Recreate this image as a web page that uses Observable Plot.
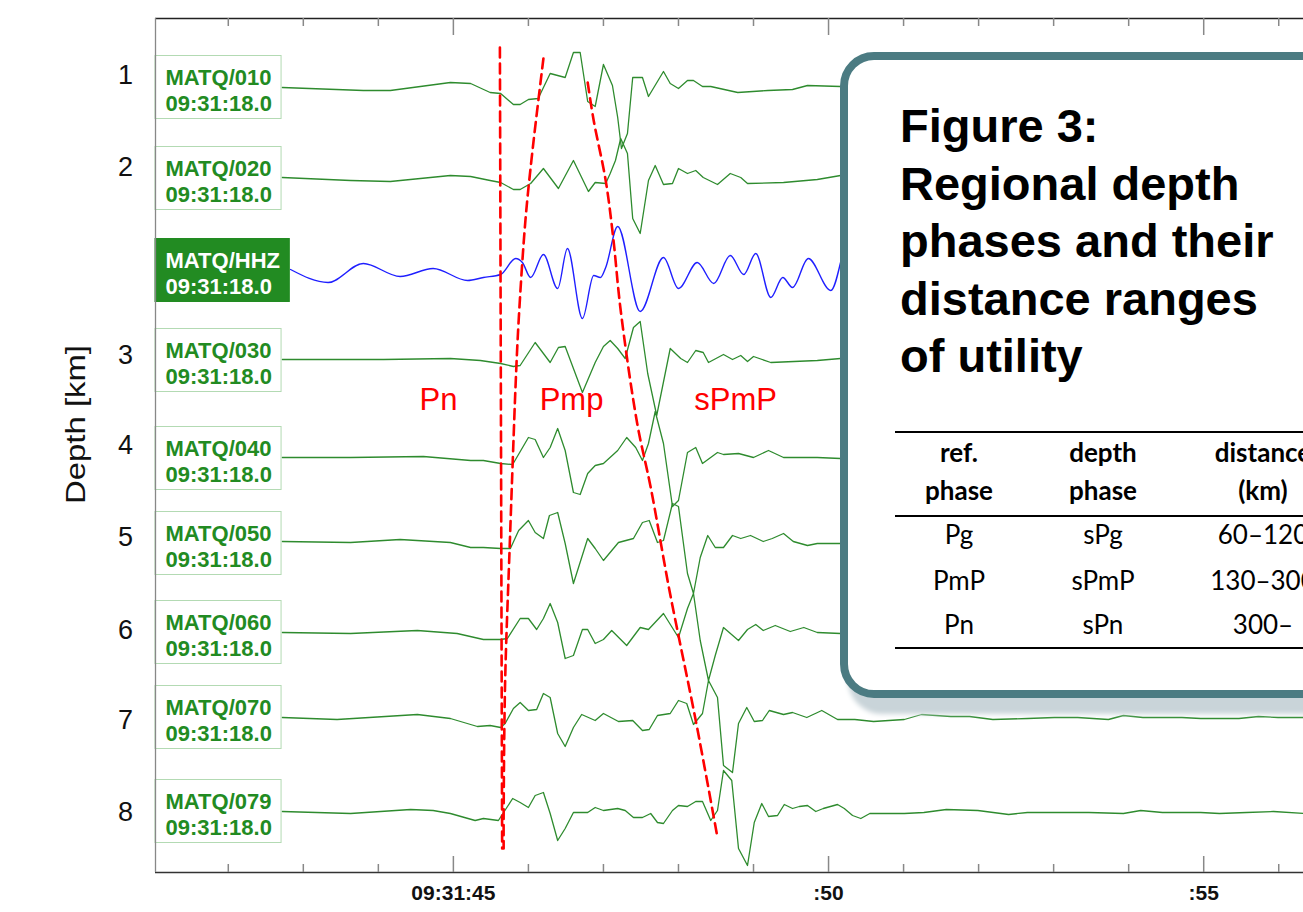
<!DOCTYPE html>
<html><head><meta charset="utf-8">
<script src="https://cdn.jsdelivr.net/npm/d3@7"></script>
<script src="https://cdn.jsdelivr.net/npm/@observablehq/plot@0.6"></script>
<style>
html,body{margin:0;padding:0;background:#fff;}
body{width:1303px;height:912px;overflow:hidden;position:relative;font-family:"Liberation Sans",Arial,sans-serif;}
#chart{position:absolute;left:0;top:0;}
#card{position:absolute;left:840px;top:52px;width:600px;height:630px;border:8px solid #4b7b82;border-radius:34px;background:#fff;box-shadow:8px 16px 5px #c9d4d9;}
#title{position:absolute;left:900px;top:97px;font:bold 47px "Liberation Sans",Arial,sans-serif;line-height:57.5px;color:#000;white-space:nowrap;}
.rule{position:absolute;left:895px;width:500px;height:2px;background:#000;}
.cell{position:absolute;width:170px;text-align:center;font-family:Lato,"Open Sans",sans-serif;font-size:26px;line-height:31.2px;color:#000;white-space:nowrap;}
.hd{font-weight:bold;}
</style></head>
<body>
<div id="chart"></div>
<div id="card"></div>
<div id="title"></div>
<div id="table"></div>
<script>
// ---------- data ----------
const stations = ["MATQ/010","MATQ/020","MATQ/HHZ","MATQ/030","MATQ/040","MATQ/050","MATQ/060","MATQ/070","MATQ/079"];
const startTime = "09:31:18.0";
const traceLevels = [785, 694, 602, 512, 414, 329, 240, 155, 61];
const depthLabels = ["1","2","3","4","5","6","7","8"];
const depthPositions = [797, 705, 517, 427, 335, 242, 152, 60];
const majorTicks = [45, 50, 55];
const majorTickLabels = ["09:31:45", ":50", ":55"];
const secondTicks = [42,43,44,45,46,47,48,49,50,51,52,53,54,55,56];

// [seconds after 09:31:00, amplitude]
const trace010 = [[42.72,0],[43.80,-3],[44.16,-3],[44.96,5],[45.23,4],[45.49,-5],[45.63,-6],[45.80,-17],[45.89,-17],[46.00,-12],[46.13,-11],[46.29,14],[46.49,10],[46.60,35],[46.69,35],[46.79,-14],[46.89,-19],[47.00,23],[47.12,2],[47.19,-30],[47.24,-61],[47.32,-46],[47.39,10],[47.52,10],[47.60,-9],[47.80,16],[47.89,4],[48.00,-1],[48.12,7],[48.20,7],[48.32,1],[48.43,1],[48.79,-5],[49.19,-3],[49.52,-2],[49.72,2],[50.16,1]];
const trace020 = [[42.72,1],[43.63,-2],[44.16,-3],[44.96,3],[45.23,2],[45.49,-2],[45.63,-4],[45.80,-11],[45.89,-11],[46.03,-5],[46.20,10],[46.40,-10],[46.60,18],[46.80,-13],[46.89,-4],[47.03,-5],[47.09,5],[47.16,18],[47.23,40],[47.32,25],[47.39,-40],[47.49,-55],[47.60,-2],[47.69,13],[47.80,-6],[47.92,-5],[48.00,10],[48.12,5],[48.23,8],[48.33,1],[48.52,-6],[48.69,5],[48.83,1],[48.92,-5],[49.40,-4],[49.85,-1],[50.16,3]];
const traceHHZ = [[42.83,1],[43.33,-12],[43.80,7],[44.29,-6],[44.73,2],[45.19,-10],[45.40,-7],[45.63,-4],[45.83,12],[45.92,8],[46.03,-7],[46.20,16],[46.39,-18],[46.52,22],[46.72,-48],[46.87,-5],[46.96,-7],[47.03,3],[47.19,44],[47.49,-41],[47.80,13],[48.00,-18],[48.25,8],[48.47,-13],[48.69,15],[48.87,-4],[49.03,17],[49.23,-27],[49.39,-7],[49.52,-17],[49.73,12],[50.03,-20],[50.16,8]];
const trace030 = [[42.72,1],[44.07,1],[44.96,2],[45.36,0],[45.63,-3],[45.80,-6],[45.89,-5],[46.09,18],[46.29,-2],[46.40,13],[46.49,14],[46.72,-32],[46.89,-2],[47.00,14],[47.09,20],[47.19,12],[47.29,2],[47.40,33],[47.49,39],[47.59,-13],[47.71,-55],[47.89,12],[48.03,2],[48.12,-2],[48.23,10],[48.33,8],[48.40,-2],[48.60,6],[48.72,1],[48.83,5],[48.92,-1],[49.00,4],[49.23,-2],[49.85,0],[50.16,2]];
const trace040 = [[42.72,1],[43.63,1],[44.60,2],[45.23,-2],[45.40,-2],[45.63,-5],[45.79,-6],[46.00,21],[46.09,19],[46.20,1],[46.29,11],[46.39,30],[46.49,8],[46.60,-34],[46.69,-36],[46.79,-15],[46.89,-7],[47.00,-5],[47.19,8],[47.31,21],[47.43,11],[47.52,-2],[47.60,15],[47.69,47],[47.80,15],[47.92,-48],[48.00,-42],[48.12,6],[48.23,11],[48.32,-5],[48.52,6],[48.60,4],[48.80,5],[49.00,1],[49.20,8],[49.40,1],[49.85,1],[50.16,0]];
const trace050 = [[42.72,2],[43.63,1],[44.29,4],[44.96,1],[45.23,-4],[45.40,-4],[45.63,-5],[45.76,-5],[45.87,13],[46.00,23],[46.09,11],[46.20,5],[46.28,28],[46.39,31],[46.49,0],[46.60,-40],[46.79,5],[46.89,-5],[47.00,-17],[47.20,1],[47.40,5],[47.52,21],[47.61,23],[47.72,1],[47.80,3],[47.92,40],[48.00,37],[48.12,-30],[48.20,-50],[48.29,-14],[48.39,8],[48.49,-4],[48.60,-4],[48.72,8],[48.83,5],[48.96,8],[49.13,2],[49.25,5],[49.40,10],[49.53,2],[49.72,-2],[49.85,0],[50.16,0]];
const trace060 = [[42.72,0],[43.63,-1],[44.52,2],[45.05,-1],[45.40,-7],[45.63,-7],[45.72,-6],[45.89,14],[46.00,14],[46.11,3],[46.20,14],[46.29,29],[46.39,10],[46.49,-26],[46.60,-23],[46.72,3],[46.79,3],[46.89,-11],[47.00,-7],[47.11,2],[47.31,-13],[47.49,5],[47.60,3],[47.80,19],[48.00,-5],[48.12,24],[48.20,39],[48.29,-8],[48.40,-48],[48.49,-23],[48.60,5],[48.80,-8],[48.92,3],[49.03,8],[49.13,2],[49.29,7],[49.49,1],[49.67,5],[49.85,0],[50.16,-1]];
const trace070 = [[42.72,0],[43.45,-2],[44.52,3],[44.96,-1],[45.32,-9],[45.49,-8],[45.63,-10],[45.69,-6],[45.80,9],[45.89,15],[46.00,7],[46.11,8],[46.20,24],[46.29,20],[46.39,-16],[46.49,-29],[46.60,-10],[46.71,3],[46.89,-3],[47.00,4],[47.20,-4],[47.39,-3],[47.52,-13],[47.61,-12],[47.72,2],[47.89,4],[48.00,17],[48.11,14],[48.20,-7],[48.32,4],[48.40,37],[48.52,20],[48.60,-48],[48.72,-55],[48.80,-6],[48.91,10],[49.01,-4],[49.12,-3],[49.21,7],[49.40,3],[49.52,5],[49.71,0],[49.91,7],[50.12,-2],[50.35,-2],[50.60,-4],[51.01,-2],[51.24,3],[51.63,1],[51.88,1],[52.19,-2],[52.65,-1],[53.01,0],[53.32,0],[53.73,-2],[53.93,2],[54.19,0],[54.71,0],[54.96,-1],[55.47,-1],[55.73,1],[55.99,0],[56.33,0]];
const trace079 = [[42.72,0],[43.63,-2],[44.43,2],[44.73,1],[44.96,-2],[45.29,-9],[45.40,-7],[45.60,-9],[45.79,13],[45.89,9],[46.00,4],[46.09,16],[46.20,19],[46.29,-2],[46.39,-29],[46.49,-17],[46.60,-1],[46.79,-1],[46.89,4],[47.00,1],[47.19,3],[47.29,1],[47.40,-6],[47.52,-6],[47.63,-2],[47.72,-11],[47.80,-12],[47.92,1],[48.00,6],[48.12,5],[48.23,10],[48.32,10],[48.43,-9],[48.52,1],[48.60,41],[48.71,31],[48.80,-37],[48.92,-54],[49.01,-11],[49.11,8],[49.20,-5],[49.32,-4],[49.41,7],[49.52,3],[49.61,5],[49.72,6],[49.83,0],[49.93,3],[50.12,7],[50.21,3],[50.32,-4],[50.43,-7],[50.55,-2],[50.76,-2],[51.01,-2],[51.27,-1],[51.57,2],[51.99,1],[52.40,-3],[52.65,-1],[53.16,-1],[53.47,-1],[53.93,-2],[54.16,1],[54.45,-1],[54.96,-1],[55.21,-2],[55.57,-1],[55.93,0],[56.33,-2]];

// phase picks: [seconds, level]
const pickPn = [[45.62,825],[45.65,24]];
const pickPmP = [[46.20,814],[46.05,719],[45.96,652],[45.87,552],[45.83,489],[45.79,409],[45.75,325],[45.69,192],[45.67,59],[45.67,24]];
const pickSPmP = [[46.79,790],[46.87,752],[47.03,692],[47.13,635],[47.23,562],[47.45,449],[47.63,385],[47.88,282],[48.23,152],[48.52,35]];
const phaseNames = ["Pn","Pmp","sPmP"];
const phaseLabelT = [44.55, 46.15, 48.21];
const phaseLabelLevel = [472, 472, 472];

// overlay card content
const titleLines = ["Figure 3:","Regional depth","phases and their","distance ranges","of utility"];
const tableHeader1 = ["ref.","depth","distance"];
const tableHeader2 = ["phase","phase","(km)"];
const tableRefPhase = ["Pg","PmP","Pn"];
const tableDepthPhase = ["sPg","sPmP","sPn"];
const tableDistance = ["60–120","130–300","300–"];

// ---------- chart ----------
const GREEN = "#2e8b2e", LABEL_GREEN = "#228b22", BLUE = "#1f1fff", RED = "#ff0000";
const xDomain = [41.03, 56.33];
const yTop = 854;
const x0 = xDomain[0];
const allTraces = [trace010, trace020, traceHHZ, trace030, trace040, trace050, trace060, trace070, trace079];

const rows = [];
allTraces.forEach((tr, k) => {
  tr.forEach(([t, a]) => rows.push({t, y: traceLevels[k] + a, id: stations[k], hhz: stations[k].endsWith("HHZ")}));
});
const greenRows = rows.filter(d => !d.hhz);
const blueRows = rows.filter(d => d.hhz);
const stationRows = stations.map((s, k) => ({name: s, level: traceLevels[k], hhz: s.endsWith("HHZ")}));
const picks = [pickPn, pickPmP, pickSPmP].flatMap((p, k) => p.map(([t, y]) => ({t, y, k})));
const phaseRows = phaseNames.map((n, i) => ({name: n, t: phaseLabelT[i], y: phaseLabelLevel[i]}));

const chart = Plot.plot({
  width: 1303, height: 912,
  marginLeft: 155, marginRight: 0, marginTop: 18, marginBottom: 40,
  x: {domain: xDomain, axis: null},
  y: {domain: [0, yTop], axis: null},
  style: {fontFamily: "'Liberation Sans', Arial, sans-serif", background: "white", overflow: "visible"},
  marks: [
    Plot.line(greenRows, {x: "t", y: "y", z: "id", stroke: GREEN, strokeWidth: 1.3}),
    Plot.line(blueRows, {x: "t", y: "y", z: "id", stroke: BLUE, strokeWidth: 1.4, curve: "monotone-x"}),
    Plot.rect(stationRows, {
      x1: x0, x2: d => x0 + (d.hhz ? 1.79 : 1.68),
      y1: d => d.level - 31.5, y2: d => d.level + 31.5,
      fill: d => d.hhz ? LABEL_GREEN : "white",
      stroke: d => d.hhz ? LABEL_GREEN : "#b3dab3", strokeWidth: 1
    }),
    Plot.text(stationRows, {
      x: x0, y: "level", text: d => d.name + "\n" + startTime,
      textAnchor: "start", dx: 10, dy: 2.5, fontSize: 22, fontWeight: "bold", lineHeight: 1.18,
      fill: d => d.hhz ? "white" : LABEL_GREEN
    }),
    Plot.line(picks, {x: "t", y: "y", z: "k", stroke: RED, strokeWidth: 2.6, strokeDasharray: "10,6", curve: "catmull-rom"}),
    Plot.text(phaseRows, {x: "t", y: "y", text: "name", fill: RED, fontSize: 31, textAnchor: "start"}),
    // frame
    Plot.ruleY([0], {stroke: "#333", strokeWidth: 1.3}),
    Plot.ruleY([yTop], {stroke: "#222", strokeWidth: 1.3}),
    Plot.ruleX([x0], {stroke: "#888", strokeWidth: 1.3}),
    // ticks
    Plot.ruleX(secondTicks, {y1: 0, y2: d => majorTicks.includes(d) ? 16 : 8, stroke: "#888", strokeWidth: 1.5}),
    Plot.ruleX(secondTicks, {y1: yTop, y2: d => yTop - (majorTicks.includes(d) ? 17 : 8), stroke: "#888", strokeWidth: 1.5}),
    Plot.text(majorTicks, {x: d => d, y: 0, text: (d, i) => majorTickLabels[i], dy: 21, fontSize: 21, fontWeight: "bold", fill: "#111"}),
    // depth axis
    Plot.text(depthLabels, {x: x0, y: (d, i) => depthPositions[i], text: d => d, dx: -30, fontSize: 27, fill: "#111"}),
    Plot.text(["Depth [km]"], {x: x0, y: 448, dx: -79, rotate: -90, fontSize: 27, fill: "#111"})
  ]
});
document.getElementById("chart").appendChild(chart);
chart.querySelectorAll("text").forEach(t => {
  if (t.textContent === "Depth [km]") { t.setAttribute("textLength", "159"); t.setAttribute("lengthAdjust", "spacingAndGlyphs"); }
});

// ---------- overlay card ----------
document.getElementById("title").innerHTML = titleLines.join("<br>");
const table = document.getElementById("table");
const colCenters = [959, 1103, 1263];
function rule(top) { const d = document.createElement("div"); d.className = "rule"; d.style.top = top + "px"; table.appendChild(d); }
function cell(text, center, baseline, bold) {
  const d = document.createElement("div");
  d.className = "cell" + (bold ? " hd" : "");
  d.style.left = (center - 85) + "px";
  d.style.top = (baseline - 28.3) + "px";
  d.textContent = text;
  table.appendChild(d);
}
rule(431); rule(515); rule(647);
tableHeader1.forEach((t, i) => cell(t, colCenters[i], 465, true));
tableHeader2.forEach((t, i) => cell(t, colCenters[i], 503, true));
const rowBaselines = [547, 593, 637];
rowBaselines.forEach((b, r) => {
  cell(tableRefPhase[r], colCenters[0], b, false);
  cell(tableDepthPhase[r], colCenters[1], b, false);
  cell(tableDistance[r], colCenters[2], b, false);
});
</script>
</body></html>
